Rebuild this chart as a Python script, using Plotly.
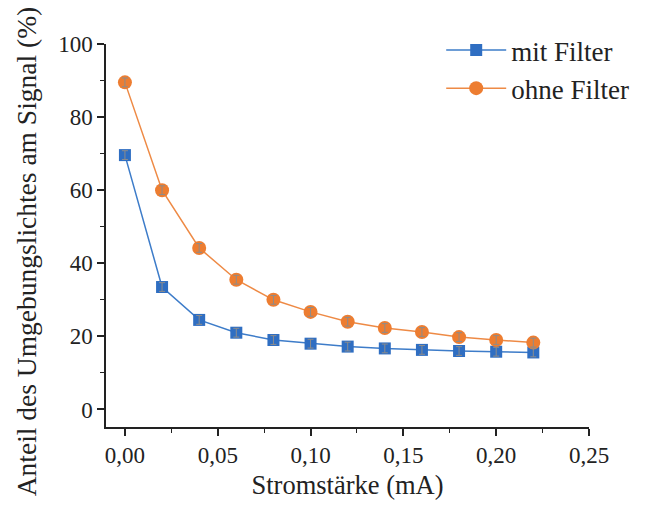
import plotly.graph_objects as go

x_vals = [0.00, 0.02, 0.04, 0.06, 0.08, 0.10, 0.12, 0.14, 0.16, 0.18, 0.20, 0.22]
mit_filter = [69.6, 33.5, 24.5, 21.0, 19.0, 18.0, 17.2, 16.7, 16.3, 16.0, 15.8, 15.6]
ohne_filter = [89.5, 60.0, 44.2, 35.5, 30.0, 26.7, 24.0, 22.3, 21.2, 19.8, 19.0, 18.3]
err_mit = [1.2] * len(x_vals)
err_ohne = [1.2] * len(x_vals)

font_family = "Liberation Serif, DejaVu Serif, serif"

fig = go.Figure()
fig.add_trace(go.Scatter(
    x=x_vals, y=mit_filter, name="mit Filter", mode="lines+markers",
    line=dict(color="#3d7cc9", width=1.5),
    marker=dict(symbol="square", size=12, color="#2f6ec2"),
))
fig.add_trace(go.Scatter(
    x=x_vals, y=ohne_filter, name="ohne Filter", mode="lines+markers",
    line=dict(color="#ee8a45", width=1.5),
    marker=dict(symbol="circle", size=14, color="#ed7d31"),
))
# error bars drawn on top of the markers
for yv, ev in [(mit_filter, err_mit), (ohne_filter, err_ohne)]:
    fig.add_trace(go.Scatter(
        x=x_vals, y=yv, mode="markers", showlegend=False, hoverinfo="skip",
        marker=dict(size=1, color="rgba(0,0,0,0)"),
        error_y=dict(type="data", array=ev, color="#8c8c8c", thickness=1, width=3),
    ))

fig.update_layout(
    width=646, height=507,
    margin=dict(l=106, r=55, t=44, b=80),
    plot_bgcolor="white", paper_bgcolor="white",
    separators=",.",
    font=dict(family=font_family, size=23, color="#222222"),
    showlegend=True,
    legend=dict(x=0.694, y=1.047, xanchor="left", yanchor="top",
                bgcolor="rgba(0,0,0,0)", font=dict(size=27), itemwidth=60,
                tracegroupgap=0),
    annotations=[dict(
        text="Anteil des Umgebungslichtes am Signal (%)",
        xref="paper", yref="paper", x=-0.165, y=0.4595,
        xanchor="center", yanchor="middle", textangle=-90,
        showarrow=False, font=dict(size=27.5),
    )],
)
fig.update_xaxes(
    range=[-0.0102, 0.25], tickvals=[0, 0.05, 0.10, 0.15, 0.20, 0.25],
    tickformat=".2f", showgrid=False, zeroline=False,
    showline=True, linecolor="#222222", linewidth=1.5,
    ticks="outside", ticklen=7, tickcolor="#222222", tickwidth=1.5,
    minor=dict(tickvals=[0.025, 0.075, 0.125, 0.175, 0.225], ticks="outside", ticklen=4, tickcolor="#222222", tickwidth=1.2),
    title=dict(text="Stromstärke (mA)", font=dict(size=26.5), standoff=8),
    tickfont=dict(size=23),
)
fig.update_yaxes(
    range=[-4.8, 100], tickvals=[0, 20, 40, 60, 80, 100],
    showgrid=False, zeroline=False,
    showline=True, linecolor="#222222", linewidth=1.5,
    ticks="outside", ticklen=7, tickcolor="#222222", tickwidth=1.5,
    minor=dict(tickvals=[10, 30, 50, 70, 90], ticks="outside", ticklen=4, tickcolor="#222222", tickwidth=1.2),
    tickfont=dict(size=23),
)

fig.write_html("out.html")
